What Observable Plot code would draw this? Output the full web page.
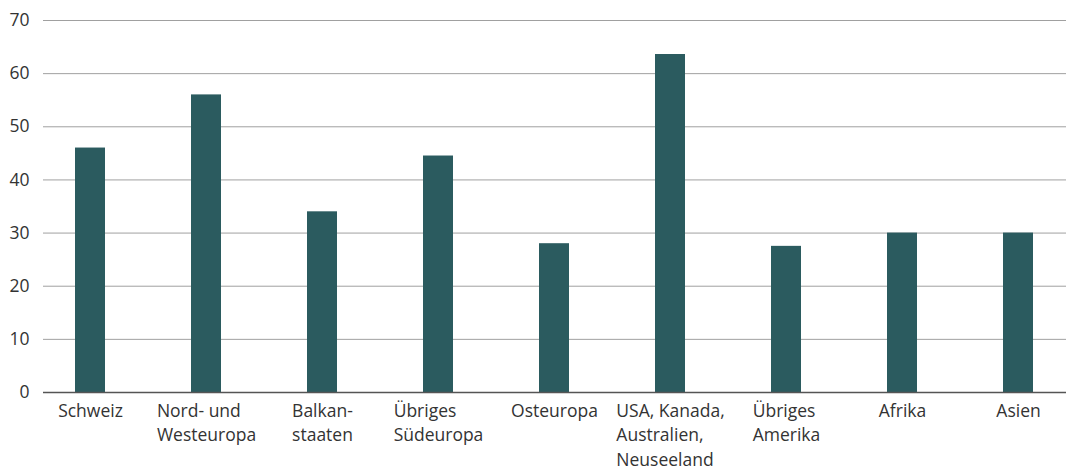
<!DOCTYPE html>
<html>
<head>
<meta charset="utf-8">
<script src="https://cdn.jsdelivr.net/npm/d3@7"></script>
<script src="https://cdn.jsdelivr.net/npm/@observablehq/plot@0.6"></script>
<style>
  html, body { margin: 0; padding: 0; background: #fff; }
  #chart { width: 1066px; height: 469px; overflow: hidden; }
  svg { font-family: "Open Sans", sans-serif; }
</style>
</head>
<body>
<div id="chart"></div>
<script>
// Regions of origin (x-axis categories, line breaks as shown)
const regions = [
  "Schweiz",
  "Nord- und\nWesteuropa",
  "Balkan-\nstaaten",
  "Übriges\nSüdeuropa",
  "Osteuropa",
  "USA, Kanada,\nAustralien,\nNeuseeland",
  "Übriges\nAmerika",
  "Afrika",
  "Asien"
];
// Value per region
const values = [46, 56, 34, 44.5, 28, 63.6, 27.5, 30, 30];
// Y-axis ticks
const yTicks = [0, 10, 20, 30, 40, 50, 60, 70];

const data = regions.map((region, i) => ({region, value: values[i]}));

const chart = Plot.plot({
  width: 1066,
  height: 469,
  marginTop: 20,
  marginBottom: 77,
  marginLeft: 43,
  marginRight: 0,
  style: {fontSize: "17.5px", fontFamily: "'Open Sans', sans-serif", color: "#333", background: "#fff"},
  x: {domain: regions, range: [30, 1078], paddingInner: 0.74, paddingOuter: 0.37, label: null},
  y: {domain: [0, 70], ticks: yTicks, label: null},
  marks: [
    Plot.ruleY(yTicks.filter(d => d > 0), {stroke: "#a0a0a0", strokeWidth: 1, strokeOpacity: 1}),
    Plot.barY(data, {x: "region", y: "value", fill: "#2b5b5f"}),
    Plot.ruleY([0], {stroke: "#555", strokeWidth: 1.5}),
    Plot.axisY({ticks: yTicks, tickSize: 0, tickPadding: 14, fill: "#333", label: null}),
    Plot.axisX({tickSize: 0, tickPadding: 7, lineHeight: 1.4, fill: "#333", label: null})
  ]
});

document.getElementById("chart").appendChild(chart);

// Multi-line category labels: left-align the lines and center the block under each bar
chart.querySelectorAll("g[aria-label='x-axis tick label'] text").forEach(t => {
  const w = t.getBBox().width;
  t.setAttribute("text-anchor", "start");
  const tspans = t.querySelectorAll("tspan");
  if (tspans.length) {
    tspans.forEach(s => s.setAttribute("x", -w / 2));
  } else {
    t.setAttribute("x", -w / 2);
  }
});
</script>
</body>
</html>
